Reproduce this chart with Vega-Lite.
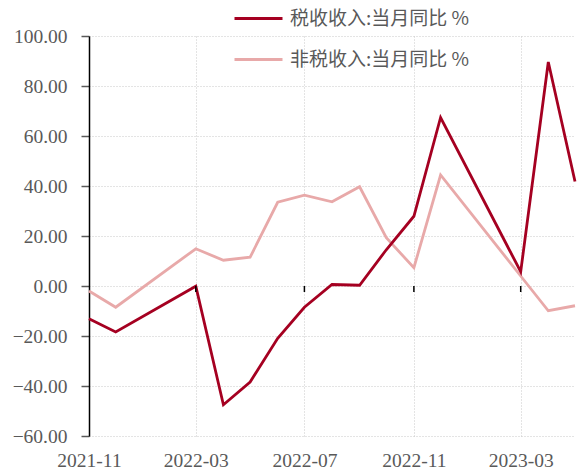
{
  "$schema": "https://vega.github.io/schema/vega-lite/v6.json",
  "width": 486,
  "height": 400,
  "autosize": {"type": "none"},
  "padding": {"left": 89, "top": 36, "right": 4, "bottom": 36},
  "background": "white",
  "config": {"view": {"stroke": null}, "font": "Liberation Serif"},
  "datasets": {
    "main": [
      {"date": "2021-11-01", "series": "非税收入:当月同比 %", "value": -2.0},
      {"date": "2021-12-01", "series": "非税收入:当月同比 %", "value": -8.5},
      {"date": "2022-03-01", "series": "非税收入:当月同比 %", "value": 14.9},
      {"date": "2022-04-01", "series": "非税收入:当月同比 %", "value": 10.3},
      {"date": "2022-05-01", "series": "非税收入:当月同比 %", "value": 11.5},
      {"date": "2022-06-01", "series": "非税收入:当月同比 %", "value": 33.5},
      {"date": "2022-07-01", "series": "非税收入:当月同比 %", "value": 36.3},
      {"date": "2022-08-01", "series": "非税收入:当月同比 %", "value": 33.7},
      {"date": "2022-09-01", "series": "非税收入:当月同比 %", "value": 39.7},
      {"date": "2022-10-01", "series": "非税收入:当月同比 %", "value": 19.3},
      {"date": "2022-11-01", "series": "非税收入:当月同比 %", "value": 7.3},
      {"date": "2022-12-01", "series": "非税收入:当月同比 %", "value": 44.4},
      {"date": "2023-03-01", "series": "非税收入:当月同比 %", "value": 4.0},
      {"date": "2023-04-01", "series": "非税收入:当月同比 %", "value": -9.9},
      {"date": "2023-05-01", "series": "非税收入:当月同比 %", "value": -7.9},
      {"date": "2021-11-01", "series": "税收收入:当月同比 %", "value": -13.1},
      {"date": "2021-12-01", "series": "税收收入:当月同比 %", "value": -18.4},
      {"date": "2022-03-01", "series": "税收收入:当月同比 %", "value": -0.1},
      {"date": "2022-04-01", "series": "税收收入:当月同比 %", "value": -47.5},
      {"date": "2022-05-01", "series": "税收收入:当月同比 %", "value": -38.4},
      {"date": "2022-06-01", "series": "税收收入:当月同比 %", "value": -20.9},
      {"date": "2022-07-01", "series": "税收收入:当月同比 %", "value": -8.5},
      {"date": "2022-08-01", "series": "税收收入:当月同比 %", "value": 0.6},
      {"date": "2022-09-01", "series": "税收收入:当月同比 %", "value": 0.3},
      {"date": "2022-10-01", "series": "税收收入:当月同比 %", "value": 14.5},
      {"date": "2022-11-01", "series": "税收收入:当月同比 %", "value": 27.9},
      {"date": "2022-12-01", "series": "税收收入:当月同比 %", "value": 67.4},
      {"date": "2023-03-01", "series": "税收收入:当月同比 %", "value": 5.7},
      {"date": "2023-04-01", "series": "税收收入:当月同比 %", "value": 89.6},
      {"date": "2023-05-01", "series": "税收收入:当月同比 %", "value": 41.8}
    ],
    "ticks": [
      {"date": "2022-03-01"},
      {"date": "2022-07-01"},
      {"date": "2022-11-01"},
      {"date": "2023-03-01"}
    ]
  },
  "layer": [
    {
      "data": {"name": "main"},
      "mark": {"type": "line", "strokeWidth": 2.8},
      "encoding": {
        "x": {
          "field": "date",
          "type": "temporal",
          "scale": {
            "type": "utc",
            "domain": [
              {"year": 2021, "month": 11, "date": 1, "utc": true},
              {"year": 2023, "month": 5, "date": 1, "utc": true}
            ]
          },
          "axis": {
            "title": null,
            "orient": "bottom",
            "values": [
              {"year": 2021, "month": 11, "date": 1, "utc": true},
              {"year": 2022, "month": 3, "date": 1, "utc": true},
              {"year": 2022, "month": 7, "date": 1, "utc": true},
              {"year": 2022, "month": 11, "date": 1, "utc": true},
              {"year": 2023, "month": 3, "date": 1, "utc": true}
            ],
            "format": "%Y-%m",
            "ticks": false,
            "domain": false,
            "labelPadding": 15,
            "labelFont": "Liberation Serif",
            "labelFontSize": 19.5,
            "labelColor": "#595959",
            "labelFlush": false,
            "labelOverlap": false,
            "grid": true,
            "gridColor": "#c8c8c8",
            "gridDash": [1, 2],
            "gridWidth": 1
          }
        },
        "y": {
          "field": "value",
          "type": "quantitative",
          "scale": {"domain": [-60, 100], "nice": false, "zero": false},
          "axis": {
            "title": null,
            "values": [-60, -40, -20, 0, 20, 40, 60, 80, 100],
            "format": ".2f",
            "labelFont": "Liberation Serif",
            "labelFontSize": 19.5,
            "labelColor": "#595959",
            "labelPadding": 14,
            "tickSize": 8,
            "tickColor": "#595959",
            "tickWidth": 1.5,
            "domainColor": "#000000",
            "domainWidth": 1.5,
            "grid": true,
            "gridColor": "#c8c8c8",
            "gridDash": [1, 2],
            "gridWidth": 1
          }
        },
        "color": {
          "field": "series",
          "type": "nominal",
          "scale": {
            "domain": ["税收收入:当月同比 %", "非税收入:当月同比 %"],
            "range": ["#A50021", "#E8A9A9"]
          },
          "legend": {
            "orient": "none",
            "legendX": 160,
            "legendY": -27,
            "direction": "vertical",
            "title": null,
            "symbolType": "M-4,0H4",
            "symbolSize": 144,
            "symbolStrokeWidth": 3,
            "labelFont": "Noto Sans CJK SC",
            "labelFontSize": 19,
            "labelColor": "#595959",
            "labelOffset": 22,
            "labelLimit": 300,
            "rowPadding": 21,
            "padding": 0
          }
        }
      }
    },
    {
      "mark": {"type": "rule", "color": "#595959", "strokeWidth": 1.5},
      "encoding": {"y": {"datum": 0}}
    },
    {
      "data": {"name": "ticks"},
      "mark": {"type": "rule", "color": "#000000", "strokeWidth": 1.5},
      "encoding": {
        "x": {"field": "date", "type": "temporal"},
        "y": {"datum": 0},
        "y2": {"datum": -2.4}
      }
    }
  ]
}
